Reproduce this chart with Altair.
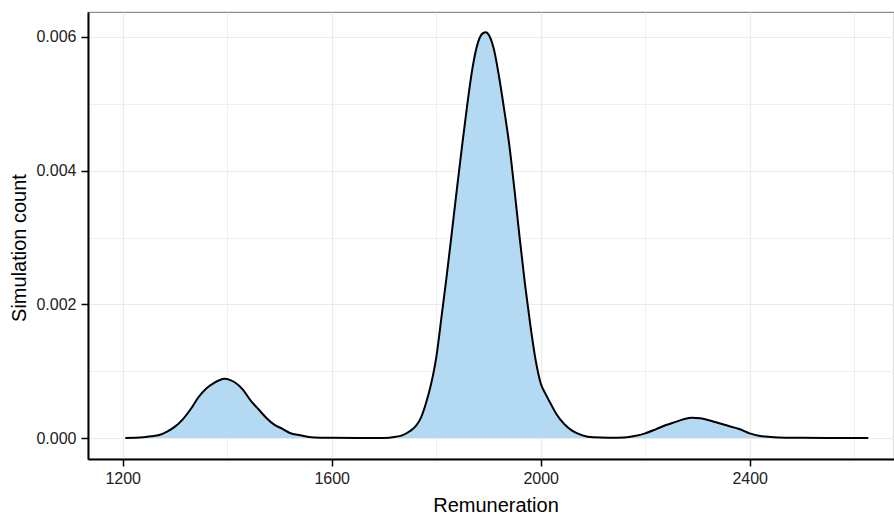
import altair as alt
import pandas as pd

# Values
remuneration = [1205, 1225, 1240, 1255, 1270, 1285, 1300, 1315, 1330, 1345,
                1360, 1375, 1385, 1395, 1405, 1415, 1430, 1445, 1460, 1475,
                1490, 1505, 1520, 1540, 1560, 1580, 1600, 1650, 1700, 1720,
                1735, 1750, 1760, 1770, 1780, 1790, 1800, 1810, 1820, 1830,
                1840, 1850, 1860, 1870, 1880, 1890, 1895, 1900, 1910, 1920,
                1930, 1940, 1950, 1960, 1970, 1980, 1990, 2000, 2010, 2020,
                2030, 2045, 2060, 2080, 2100, 2130, 2160, 2180, 2200, 2220,
                2240, 2260, 2275, 2290, 2305, 2320, 2340, 2360, 2380, 2400,
                2420, 2440, 2470, 2500, 2550, 2627]
density = [0.000000, 0.000003, 0.000010, 0.000025, 0.000045, 0.000095, 0.000170, 0.000280, 0.000430, 0.000610,
           0.000740, 0.000825, 0.000865, 0.000885, 0.000870, 0.000830, 0.000725, 0.000560, 0.000430, 0.000300,
           0.000200, 0.000140, 0.000075, 0.000040, 0.000012, 0.000005, 0.000003, 0.000001, 0.000002, 0.000015,
           0.000040, 0.000105, 0.000170, 0.000290, 0.000510, 0.000800, 0.001200, 0.001800, 0.002420, 0.003080,
           0.003750, 0.004400, 0.005020, 0.005560, 0.005920, 0.006060, 0.006070, 0.006040, 0.005830, 0.005420,
           0.004920, 0.004380, 0.003700, 0.002980, 0.002300, 0.001700, 0.001180, 0.000820, 0.000650, 0.000500,
           0.000360, 0.000210, 0.000110, 0.000040, 0.000010, 0.000003, 0.000008, 0.000030, 0.000070, 0.000130,
           0.000195, 0.000245, 0.000285, 0.000305, 0.000295, 0.000270, 0.000225, 0.000180, 0.000135, 0.000070,
           0.000030, 0.000015, 0.000005, 0.000003, 0.000001, 0.000000]

x_ticks = [1200, 1400, 1600, 1800, 2000, 2200, 2400, 2600]
y_ticks = [0.0, 0.001, 0.002, 0.003, 0.004, 0.005, 0.006]

df = pd.DataFrame({"Remuneration": remuneration, "density": density})

FONT = "Liberation Sans"

x_scale = alt.Scale(domain=[1133.6, 2676.2], nice=False, zero=False)
y_scale = alt.Scale(domain=[-0.000314, 0.006374], nice=False, zero=False)

x_axis = alt.Axis(
    values=x_ticks, format="d",
    labelExpr="datum.value % 400 == 0 ? datum.label : ''",
    tickOpacity={"condition": {"test": "datum.value % 400 != 0", "value": 0}, "value": 1},
    gridWidth={"condition": {"test": "datum.value % 400 != 0", "value": 0.8}, "value": 1.2},
    title="Remuneration", titleFont=FONT, titleFontSize=20, titleFontWeight="normal",
    titleColor="black", titleX=407.5, titleY=52, titleBaseline="alphabetic", titleAlign="center",
    labelFont=FONT, labelFontSize=16, labelColor="#222222", labelPadding=4, labelFlush=False,
    tickSize=7, tickWidth=1.5, tickColor="black",
    domainColor="black", domainWidth=2,
    gridColor="#ebebeb",
)

y_axis = alt.Axis(
    values=y_ticks, format=".3f",
    labelExpr="round(datum.value * 1000) % 2 == 0 ? datum.label : ''",
    tickOpacity={"condition": {"test": "round(datum.value * 1000) % 2 != 0", "value": 0}, "value": 1},
    gridWidth={"condition": {"test": "round(datum.value * 1000) % 2 != 0", "value": 0.8}, "value": 1.2},
    title="Simulation count", titleFont=FONT, titleFontSize=20, titleFontWeight="normal",
    titleColor="black", titleAngle=270, titleX=-63, titleY=235.5, titleBaseline="alphabetic",
    titleAlign="center",
    labelFont=FONT, labelFontSize=16, labelColor="#222222", labelPadding=5,
    tickSize=7, tickWidth=1.5, tickColor="black",
    domainColor="black", domainWidth=2,
    gridColor="#ebebeb",
)

base = alt.Chart(df)

area = base.mark_area(color="#b3d9f3", opacity=1, interpolate="monotone").encode(
    x=alt.X("Remuneration:Q", scale=x_scale, axis=x_axis),
    y=alt.Y("density:Q", scale=y_scale, axis=y_axis),
    y2=alt.datum(0),
)

line = base.mark_line(color="black", strokeWidth=2, interpolate="monotone").encode(
    x=alt.X("Remuneration:Q", scale=x_scale),
    y=alt.Y("density:Q", scale=y_scale),
)

chart = alt.layer(area, line).properties(
    width=806, height=447,
    autosize=alt.AutoSizeParams(type="none"),
    padding={"left": 88, "top": 12, "right": 0, "bottom": 58},
    background="white",
).configure_view(stroke="#8c8c8c", strokeWidth=1.2)

chart.save("out.html", embed_options={"renderer": "svg", "actions": False})
